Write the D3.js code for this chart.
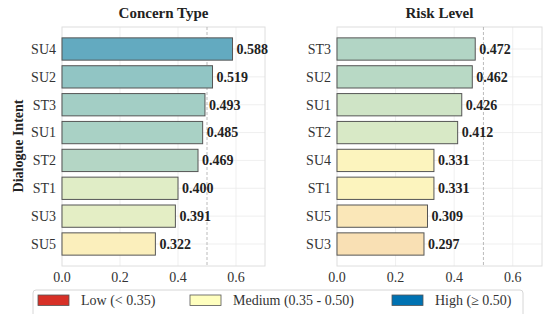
<!DOCTYPE html>
<html>
<head>
<meta charset="utf-8">
<script src="https://cdn.jsdelivr.net/npm/d3@7"></script>
<style>
  body { margin: 0; background: #fff; }
</style>
</head>
<body>
<div id="chart"></div>
<script>
// Concern Type panel
const concernLabels = ['SU4', 'SU2', 'ST3', 'SU1', 'ST2', 'ST1', 'SU3', 'SU5'];
const concernValues = [0.588, 0.519, 0.493, 0.485, 0.469, 0.400, 0.391, 0.322];
// Risk Level panel
const riskLabels = ['ST3', 'SU2', 'SU1', 'ST2', 'SU4', 'ST1', 'SU5', 'SU3'];
const riskValues = [0.472, 0.462, 0.426, 0.412, 0.331, 0.331, 0.309, 0.297];
const xTicks = [0.0, 0.2, 0.4, 0.6];
const legendItems = ['Low (< 0.35)', 'Medium (0.35 - 0.50)', 'High (\u2265 0.50)'];
const legendColors = ['#d73027', '#ffffbf', '#0072b2'];

const W = 545, H = 314;
const svg = d3.select('#chart').append('svg')
    .attr('width', W).attr('height', H)
    .attr('font-family', "'Liberation Serif', 'DejaVu Serif', serif");

// bar fill by value
const color = d3.scaleLinear()
    .domain([0.29, 0.33, 0.40, 0.47, 0.52, 0.59])
    .range(['#f8dcb2', '#fcf4be', '#e0edc6', '#b3d6c5', '#90c5c4', '#62a9c0']);

const plotTop = 27, plotBottom = 266;

function panel(x0, x1, title, labels, values) {
    const x = d3.scaleLinear().domain([0, 0.7]).range([x0, x1]);
    const y = d3.scaleBand().domain(labels).range([plotTop, plotBottom])
        .paddingInner(0.2).paddingOuter(0.39);
    const g = svg.append('g');

    // grid
    g.selectAll('.vg').data(xTicks.slice(1)).enter().append('line')
        .attr('x1', d => x(d)).attr('x2', d => x(d))
        .attr('y1', plotTop).attr('y2', plotBottom)
        .attr('stroke', '#ebebeb').attr('stroke-width', 0.8);
    g.selectAll('.hg').data(labels).enter().append('line')
        .attr('x1', x0).attr('x2', x1)
        .attr('y1', d => y(d) + y.bandwidth() / 2).attr('y2', d => y(d) + y.bandwidth() / 2)
        .attr('stroke', '#ebebeb').attr('stroke-width', 0.8);

    // frame
    g.append('rect').attr('x', x0).attr('y', plotTop)
        .attr('width', x1 - x0).attr('height', plotBottom - plotTop)
        .attr('fill', 'none').attr('stroke', '#dedede').attr('stroke-width', 1);

    // threshold
    g.append('line').attr('x1', x(0.5)).attr('x2', x(0.5))
        .attr('y1', plotTop).attr('y2', plotBottom)
        .attr('stroke', '#aaa').attr('stroke-width', 0.8)
        .attr('stroke-dasharray', '3,2');

    // bars
    g.selectAll('.bar').data(values).enter().append('rect')
        .attr('x', x(0))
        .attr('y', (d, i) => y(labels[i]))
        .attr('width', d => x(d) - x(0))
        .attr('height', y.bandwidth())
        .attr('fill', d => color(d))
        .attr('stroke', '#555').attr('stroke-width', 1);

    // value labels
    g.selectAll('.val').data(values).enter().append('text')
        .attr('x', d => x(d) + 4)
        .attr('y', (d, i) => y(labels[i]) + y.bandwidth() / 2)
        .attr('dy', '0.35em')
        .attr('font-size', 14).attr('font-weight', 'bold').attr('fill', '#222')
        .text(d => d.toFixed(3));

    // y axis labels
    g.selectAll('.yl').data(labels).enter().append('text')
        .attr('x', x0 - 6)
        .attr('y', d => y(d) + y.bandwidth() / 2)
        .attr('dy', '0.35em').attr('text-anchor', 'end')
        .attr('font-size', 14).attr('fill', '#333')
        .text(d => d);

    // x axis labels
    g.selectAll('.xl').data(xTicks).enter().append('text')
        .attr('x', d => x(d)).attr('y', 282)
        .attr('text-anchor', 'middle')
        .attr('font-size', 14).attr('fill', '#333')
        .text(d => d.toFixed(1));

    g.append('text').attr('x', (x0 + x1) / 2).attr('y', 18)
        .attr('text-anchor', 'middle')
        .attr('font-size', 15).attr('font-weight', 'bold').attr('fill', '#222')
        .text(title);
}

panel(62, 265, 'Concern Type', concernLabels, concernValues);
panel(337, 542, 'Risk Level', riskLabels, riskValues);

svg.append('text')
    .attr('transform', 'translate(23,146) rotate(-90)')
    .attr('text-anchor', 'middle')
    .attr('font-size', 14).attr('font-weight', 'bold').attr('fill', '#222')
    .text('Dialogue Intent');

// legend
const lg = svg.append('g');
lg.append('rect').attr('x', 33).attr('y', 290).attr('width', 490).attr('height', 30)
    .attr('rx', 3).attr('fill', '#fff').attr('stroke', '#d6d6d6');
const legendX = [38, 190, 392];
legendItems.forEach((t, i) => {
    lg.append('rect').attr('x', legendX[i]).attr('y', 295)
        .attr('width', 31).attr('height', 10.5)
        .attr('fill', legendColors[i]).attr('stroke', '#555').attr('stroke-width', 0.8);
    lg.append('text').attr('x', legendX[i] + 43).attr('y', 305)
        .attr('font-size', 14).attr('fill', '#333').text(t);
});
</script>
</body>
</html>
